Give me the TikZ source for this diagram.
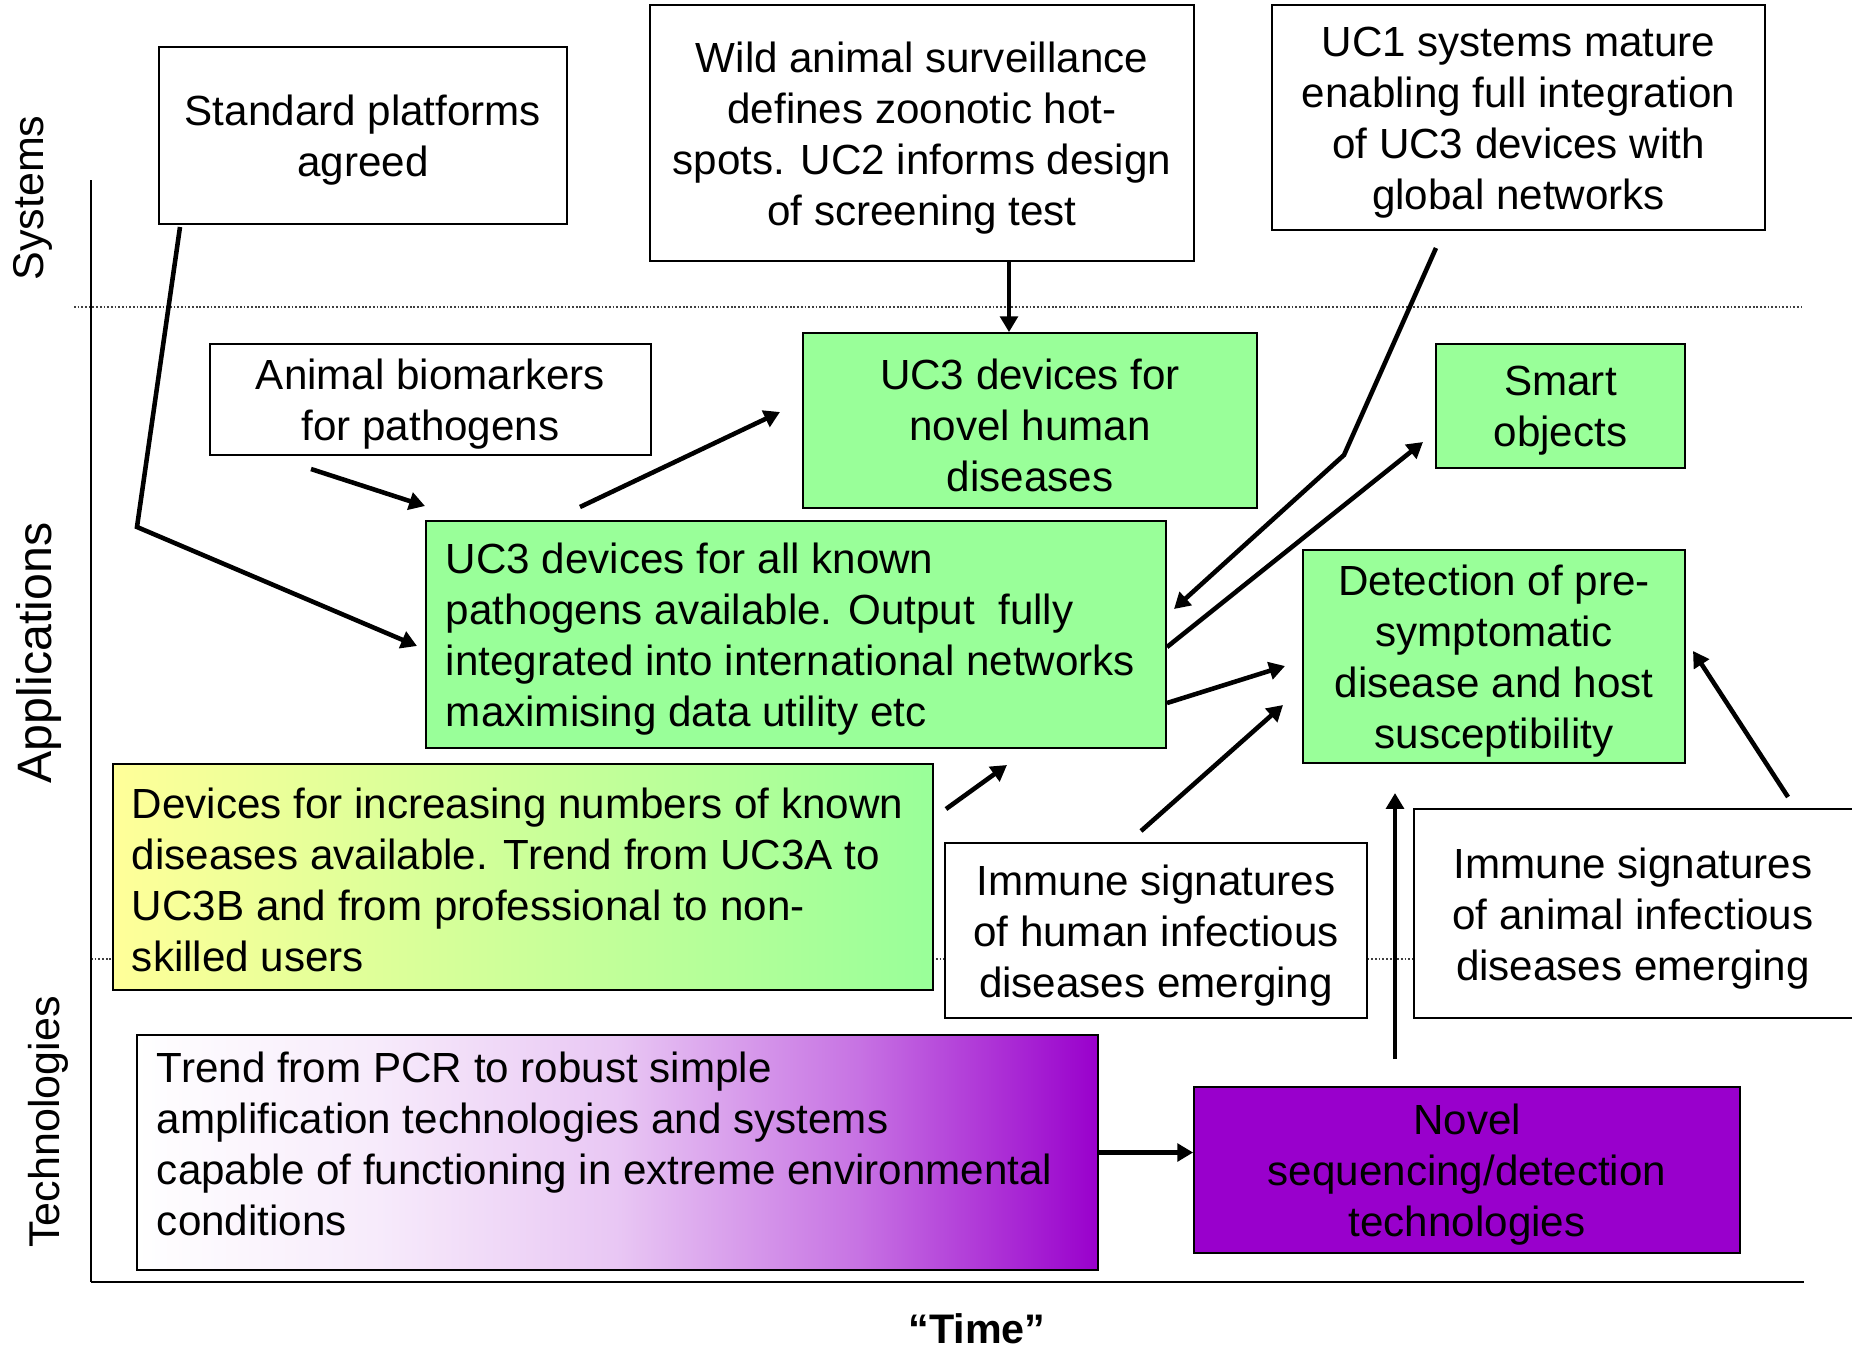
\documentclass[tikz,border=0pt]{standalone}
\usepackage{fontspec}
\setmainfont{Liberation Sans}
\usetikzlibrary{fit,arrows.meta}

\definecolor{boxgreen}{HTML}{99FF99}
\definecolor{boxyellow}{HTML}{FFFF99}
\definecolor{boxpurple}{HTML}{9900CC}

% white fading slowly into purple, left to right
\pgfdeclarehorizontalshading{whitetopurple}{100bp}{%
  color(0bp)=(white); color(25bp)=(white);
  color(37.5bp)=(white!92!boxpurple);
  color(50bp)=(white!78!boxpurple);
  color(62.5bp)=(white!45!boxpurple);
  color(75bp)=(boxpurple); color(100bp)=(boxpurple)}

\tikzset{
  bodyfont/.style={font=\fontsize{24pt}{29pt}\selectfont},
  box/.style={draw=black, line width=1pt, inner sep=0pt},
  plainbox/.style={box, fill=white},
  greenbox/.style={box, fill=boxgreen},
  midtext/.style={bodyfont, align=center, inner sep=0pt, yshift=-0.1cm},
  lefttext/.style={bodyfont, align=left, inner sep=0pt, anchor=west},
  flow/.style={line width=2.6pt, line join=miter, -{Triangle[length=9pt,width=10pt]}},
  band/.style={line width=0.6pt, black!75, dash pattern=on 1pt off 1.1pt},
  axislabel/.style={font=\fontsize{24.5pt}{29pt}\selectfont, inner sep=0pt, rotate=90}
}

\begin{document}
\begin{tikzpicture}[x=0.02cm, y=-0.02cm]
  \fill[white] (0,0) rectangle (1852,1350);
  \useasboundingbox (0,0) rectangle (1852,1350);

  % band separators and axes
  \draw[band] (74,307) -- (1801,307);
  \draw[band] (91,959) -- (1801,959);
  \draw[line width=1.1pt] (91,180) -- (91,1282);
  \draw[line width=1.6pt] (91,1282) -- (1804,1282);

  % axis labels
  \node[axislabel] (lsys) at (33,198) {Systems};
  \node[axislabel, font=\fontsize{27.5pt}{31pt}\selectfont] (lapp) at (39,653) {Applications};
  \node[axislabel] (ltech) at (48,1122) {Technologies};
  \node[font=\bfseries\fontsize{23.5pt}{28pt}\selectfont, inner sep=0pt, anchor=base] (ltime) at (977,1343) {“Time”};

  % systems
  \node[plainbox, fit={(159,47) (567,224)}] (std) {};
  \node[midtext] (stdT) at (std.center) {Standard platforms\\agreed};
  \node[plainbox, fit={(650,5) (1194,261)}] (wild) {};
  \node[midtext] (wildT) at (wild.center) {Wild animal surveillance\\defines zoonotic hot-\\spots. UC2 informs design\\of screening test};
  \node[plainbox, fit={(1272,5) (1765,230)}] (uc1) {};
  \node[midtext] (uc1T) at (uc1.center) {UC1 systems mature\\enabling full integration\\of UC3 devices with\\global networks};

  % applications
  \node[plainbox, fit={(210,344) (651,455)}] (bio) {};
  \node[midtext] (bioT) at (bio.center) {Animal biomarkers\\for pathogens};
  \node[greenbox, fit={(803,333) (1257,508)}] (novel) {};
  \node[midtext] (novelT) at (novel.center) {UC3 devices for\\novel human\\diseases};
  \node[greenbox, fit={(1436,344) (1685,468)}] (smart) {};
  \node[midtext] (smartT) at (smart.center) {Smart\\objects};
  \node[greenbox, fit={(426,521) (1166,748)}] (known) {};
  \node[lefttext, xshift=0.41cm, yshift=-0.1cm] (knownT) at (known.west) {UC3 devices for all known\\pathogens available. Output\ \ fully\\integrated into international networks\\maximising data utility etc};
  \node[greenbox, fit={(1303,550) (1685,763)}] (detect) {};
  \node[midtext] (detectT) at (detect.center) {Detection of pre-\\symptomatic\\disease and host\\susceptibility};
  \node[box, left color=boxyellow, right color=boxgreen, fit={(113,764) (933,990)}] (devices) {};
  \node[lefttext, xshift=0.39cm, yshift=-0.05cm] (devicesT) at (devices.west) {Devices for increasing numbers of known\\diseases available. Trend from UC3A to\\UC3B and from professional to non-\\skilled users};
  \node[plainbox, fit={(945,843) (1367,1018)}] (humimm) {};
  \node[midtext] (humimmT) at (humimm.center) {Immune signatures\\of human infectious\\diseases emerging};
  \node[plainbox, fit={(1414,809) (1856,1018)}] (animm) {};
  \node[midtext] (animmT) at ([xshift=-0.04cm]animm.center) {Immune signatures\\of animal infectious\\diseases emerging};

  % technologies
  \node[box, shading=whitetopurple, fit={(137,1035) (1098,1270)}] (trend) {};
  \node[lefttext, xshift=0.41cm, yshift=0.18cm] (trendT) at (trend.west) {Trend from PCR to robust simple\\amplification technologies and systems\\capable of functioning in extreme environmental\\conditions};
  \node[box, fill=boxpurple, fit={(1194,1087) (1740,1253)}] (seq) {};
  \node[midtext] (seqT) at (seq.center) {Novel\\sequencing/detection\\technologies};

  % free ends of the connectors
  \coordinate (stdA) at (180,227);
  \coordinate (stdB) at (137,527);
  \coordinate (stdC) at (417,646);
  \coordinate (wildX) at (1009,0);
  \coordinate (bioA) at (311,469);
  \coordinate (bioB) at (425,506);
  \coordinate (knownA) at (580,507);
  \coordinate (novelA) at (780,412);
  \coordinate (uc1A) at (1436,248);
  \coordinate (uc1B) at (1344,455);
  \coordinate (uc1C) at (1174,609);
  \coordinate (knownB) at (1167,647);
  \coordinate (smartA) at (1423,442);
  \coordinate (knownC) at (1167,703);
  \coordinate (detA) at (1285,666);
  \coordinate (humA) at (1141,831);
  \coordinate (detB) at (1283,705);
  \coordinate (aniA) at (1788,797);
  \coordinate (detC) at (1693,651);
  \coordinate (seqA) at (1395,1059);
  \coordinate (detD) at (1395,793);
  \coordinate (devA) at (946,809);
  \coordinate (knownD) at (1007,765);

  % connectors
  \draw[flow] (stdA) -- (stdB) -- (stdC);
  \draw[flow] (wildX |- wild.south) -- (wildX |- novel.north);
  \draw[flow] (bioA) -- (bioB);
  \draw[flow] (knownA) -- (novelA);
  \draw[flow] (uc1A) -- (uc1B) -- (uc1C);
  \draw[flow] (knownB) -- (smartA);
  \draw[flow] (knownC) -- (detA);
  \draw[flow] (humA) -- (detB);
  \draw[flow] (aniA) -- (detC);
  \draw[flow] (seqA) -- (detD);
  \draw[flow] (devA) -- (knownD);
  \draw[flow] (trend.east) -- (trend.east -| seq.west);
\end{tikzpicture}
\end{document}
